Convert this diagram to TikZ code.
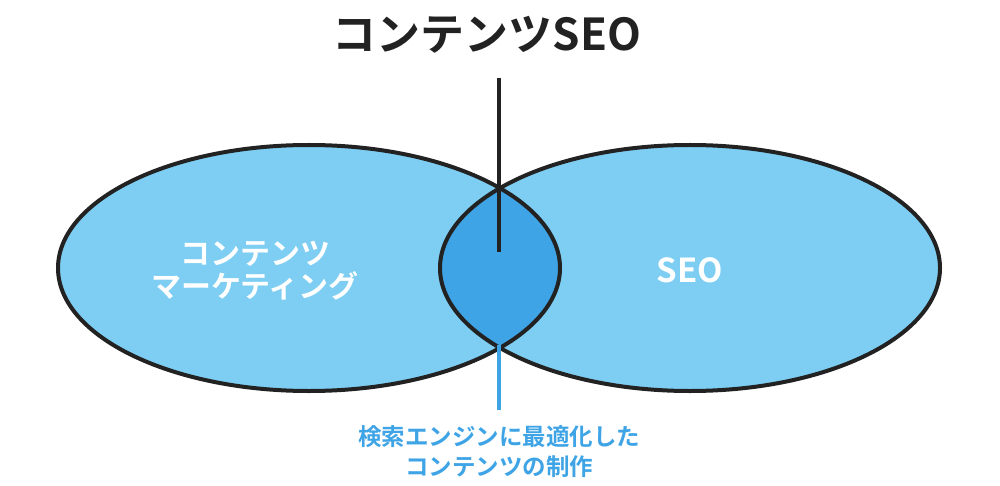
\documentclass[tikz,border=0pt]{standalone}
\usepackage{fontspec}
\newfontfamily\cjkb{Noto Sans CJK JP Bold}
\definecolor{lblue}{HTML}{7ECEF3}
\definecolor{dblue}{HTML}{3FA4E6}
\definecolor{ink}{HTML}{222222}
\begin{document}
\begin{tikzpicture}[x=1pt,y=-1pt,
  outline/.style={draw=ink,line width=4pt},
  lbl/.style={font=\cjkb,align=center,inner sep=0pt}]
\useasboundingbox (0,0) rectangle (1000,486);
\fill[lblue] (309,268) ellipse [x radius=251,y radius=123];
\fill[lblue] (690,268) ellipse [x radius=250,y radius=123];
\begin{scope}
\clip (309,268) ellipse [x radius=251,y radius=123];
\fill[dblue] (690,268) ellipse [x radius=250,y radius=123];
\end{scope}
\draw[outline] (309,268) ellipse [x radius=251,y radius=123];
\draw[outline] (690,268) ellipse [x radius=250,y radius=123];
\node[lbl,text=ink,font=\cjkb\fontsize{44}{50}\selectfont] (title) at (487,35) {コンテンツSEO};
\coordinate (tend) at (499,252);
\draw[ink,line width=4pt] (499,78) -- (tend);
\coordinate (bstart) at (499,345);
\coordinate (bend) at (499,410);
\draw[dblue,line width=4pt] (bstart) -- (bend);
\node[lbl,text=white,font=\cjkb\fontsize{30}{33}\selectfont] (cm) at (255,271) {コンテンツ\\マーケティング};
\node[lbl,text=white,font=\cjkb\fontsize{33}{36}\selectfont] (seo) at (690,270) {SEO};
\node[lbl,text=dblue,font=\cjkb\fontsize{23.5}{30}\selectfont] (bottom) at (499,452) {検索エンジンに最適化した\\コンテンツの制作};
\end{tikzpicture}
\end{document}
